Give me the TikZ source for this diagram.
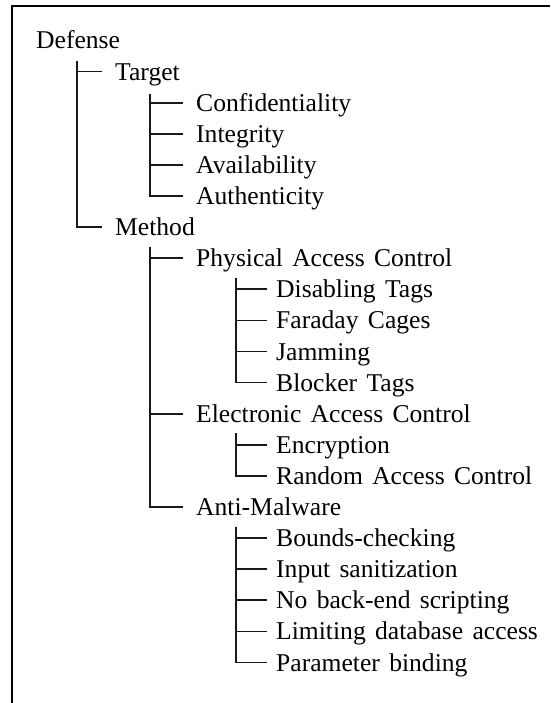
\documentclass[tikz,border=0pt]{standalone}
\usepackage{fontspec}
\setmainfont{Liberation Serif}
\usetikzlibrary{calc,positioning}
\newcommand\leaffont{\fontsize{25.6}{30}\selectfont\spaceskip 9.3pt\relax}
\tikzset{
  leaf/.style  = { anchor=west, inner sep=0pt, text height=17pt, text depth=0pt,
    font=\leaffont },
  twig/.style  = { line width=1.7pt, black!90 },
  frame/.style = { line width=2.2pt }
}
\newcommand\trow[1]{40.5+31.1*#1}

\begin{document}
\begin{tikzpicture}[x=1pt,y=-1pt]
    \useasboundingbox (0,0) rectangle (550,703);
    \draw[frame] (11.7,703) -- (11.7,6) -- (550,6);
    % the tree, one row per line
    \node[leaf] (defense)  at (36,{\trow{0}})   {Defense};
    \node[leaf] (target)   at (115,{\trow{1}})  {Target};
    \node[leaf] (conf)     at (196,{\trow{2}})  {Confidentiality};
    \node[leaf] (integ)    at (196,{\trow{3}})  {Integrity};
    \node[leaf] (avail)    at (196,{\trow{4}})  {Availability};
    \node[leaf] (auth)     at (196,{\trow{5}})  {Authenticity};
    \node[leaf] (method)   at (115,{\trow{6}})  {Method};
    \node[leaf] (phys)     at (196,{\trow{7}})  {Physical Access Control};
    \node[leaf] (disable)  at (276,{\trow{8}})  {Disabling Tags};
    \node[leaf] (faraday)  at (276,{\trow{9}})  {Faraday Cages};
    \node[leaf] (jam)      at (276,{\trow{10}}) {Jamming};
    \node[leaf] (blocker)  at (276,{\trow{11}}) {Blocker Tags};
    \node[leaf] (elec)     at (196,{\trow{12}}) {Electronic Access Control};
    \node[leaf] (encrypt)  at (276,{\trow{13}}) {Encryption};
    \node[leaf] (random)   at (276,{\trow{14}}) {Random Access Control};
    \node[leaf] (malware)  at (196,{\trow{15}}) {Anti-Malware};
    \node[leaf] (bounds)   at (276,{\trow{16}}) {Bounds-checking};
    \node[leaf] (sanitize) at (276,{\trow{17}}) {Input sanitization};
    \node[leaf] (noback)   at (276,{\trow{18}}) {No back-end scripting};
    \node[leaf] (limitdb)  at (276,{\trow{19}}) {Limiting database access};
    \node[leaf] (binding)  at (276,{\trow{20}}) {Parameter binding};
    % branches
    \foreach \c in {target,method}
      \draw[twig, shorten >=13pt] (defense.south west) ++(41,12) |- (\c.west);
    \foreach \c in {conf,integ,avail,auth}
      \draw[twig, shorten >=13pt] (target.south west) ++(35,14) |- (\c.west);
    \foreach \c in {phys,elec,malware}
      \draw[twig, shorten >=13pt] (method.south west) ++(35,11) |- (\c.west);
    \foreach \c in {disable,faraday,jam,blocker}
      \draw[twig, shorten >=9pt] (phys.south west) ++(40,11) |- (\c.west);
    \foreach \c in {encrypt,random}
      \draw[twig, shorten >=9pt] (elec.south west) ++(40,11) |- (\c.west);
    \foreach \c in {bounds,sanitize,noback,limitdb,binding}
      \draw[twig, shorten >=9pt] (malware.south west) ++(40,11) |- (\c.west);
\end{tikzpicture}
\end{document}
